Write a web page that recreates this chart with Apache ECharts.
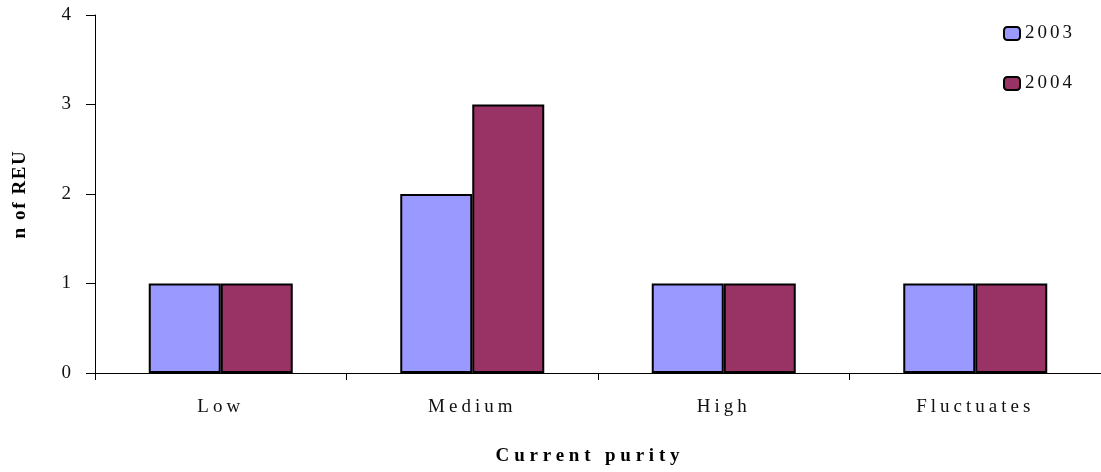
<!DOCTYPE html>
<html>
<head>
<meta charset="utf-8">
<script src="https://cdn.jsdelivr.net/npm/echarts@6/dist/echarts.min.js"></script>
<style>
html,body{margin:0;padding:0;background:#fff}
#c{width:1101px;height:472px}
</style>
</head>
<body>
<div id="c"></div>
<script>
var categories = ['Low', 'Medium', 'High', 'Fluctuates'];
var s2003 = [1, 2, 1, 1];
var s2004 = [1, 3, 1, 1];
var seriesNames = ['2003', '2004'];
var yTicks = [0, 1, 2, 3, 4];
var xTitle = 'Current purity';
var yTitle = 'n of REU';

// letter spacing of the original's texts
var spacing = {};
categories.forEach(function (c) { spacing[c] = '4px'; });
seriesNames.forEach(function (c) { spacing[c] = '3px'; });
spacing[xTitle] = '4.8px';
spacing[yTitle] = '1.6px';
var origFill = CanvasRenderingContext2D.prototype.fillText;
CanvasRenderingContext2D.prototype.fillText = function (t, x, y, m) {
  var prev = this.letterSpacing;
  if ('letterSpacing' in this) this.letterSpacing = spacing[t] || '0px';
  if (m === undefined) origFill.call(this, t, x, y); else origFill.call(this, t, x, y, m);
  if ('letterSpacing' in this) this.letterSpacing = prev;
};

var chart = echarts.init(document.getElementById('c'), null, {renderer: 'canvas'});
var font = '"Liberation Serif", serif';
chart.setOption({
  animation: false,
  backgroundColor: '#fff',
  grid: {left: 95, width: 1012, top: 15, bottom: 99},
  legend: {
    orient: 'vertical', left: 998, top: 19,
    itemWidth: 16, itemHeight: 13, itemGap: 31,
    textStyle: {fontFamily: font, fontSize: 19, lineHeight: 19, color: '#111'},
    data: seriesNames
  },
  xAxis: {
    type: 'category', data: categories,
    axisLine: {lineStyle: {color: '#000', width: 1}},
    axisTick: {show: true, length: 7, lineStyle: {color: '#000'}},
    axisLabel: {fontFamily: font, fontSize: 19, color: '#111', margin: 25}
  },
  yAxis: {
    type: 'value', min: yTicks[0], max: yTicks[yTicks.length - 1], interval: 1,
    axisLine: {show: true, lineStyle: {color: '#000', width: 1}},
    axisTick: {show: true, length: 9, lineStyle: {color: '#000'}},
    splitLine: {show: false},
    axisLabel: {fontFamily: font, fontSize: 19, color: '#111', margin: 24}
  },
  graphic: [
    {type: 'text', x: 590, y: 456, style: {text: xTitle, fontFamily: font, fontWeight: 'bold', fontSize: 19, fill: '#000', align: 'center', verticalAlign: 'middle'}},
    {type: 'text', x: 20, y: 194, rotation: Math.PI / 2, style: {text: yTitle, fontFamily: font, fontWeight: 'bold', fontSize: 19, fill: '#000', align: 'center', verticalAlign: 'middle'}}
  ],
  series: [
    {name: seriesNames[0], type: 'bar', data: s2003, barWidth: 72, barGap: '0%',
     itemStyle: {color: '#9999FF', borderColor: '#000', borderWidth: 2}},
    {name: seriesNames[1], type: 'bar', data: s2004, barWidth: 72, barGap: '0%',
     itemStyle: {color: '#993366', borderColor: '#000', borderWidth: 2}}
  ]
});
</script>
</body>
</html>
